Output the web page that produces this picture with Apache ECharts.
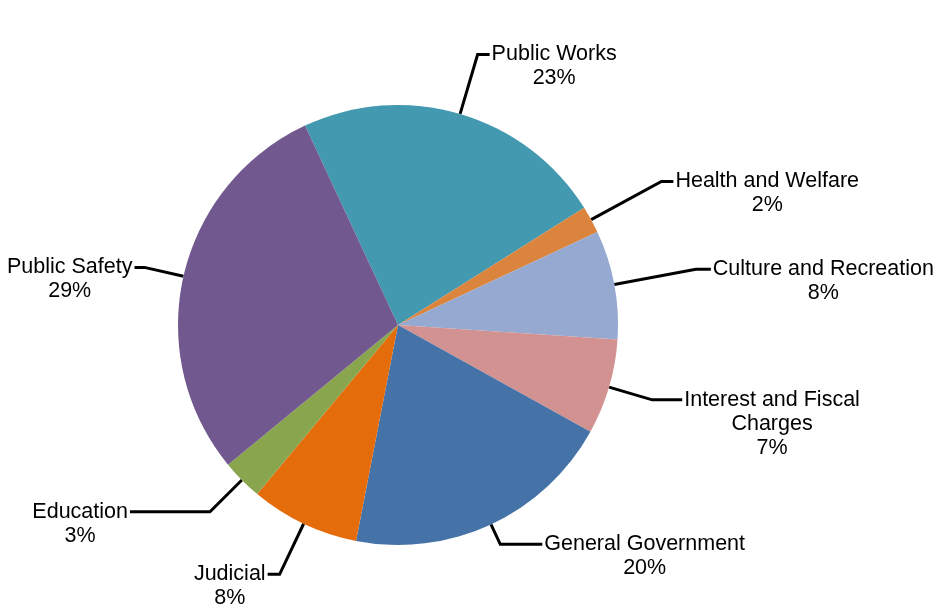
<!DOCTYPE html>
<html>
<head>
<meta charset="utf-8">
<script src="https://cdn.jsdelivr.net/npm/echarts@6/dist/echarts.min.js"></script>
<style>
  html, body { margin: 0; padding: 0; background: #fff; }
  #chart { width: 943px; height: 604px; }
</style>
</head>
<body>
<div id="chart"></div>
<script>
(function() {
  // data (percent of total)
  var categories = ["Public Works", "Health and Welfare", "Culture and Recreation",
    "Interest and Fiscal Charges", "General Government", "Judicial", "Education", "Public Safety"];
  var values = [23, 2, 8, 7, 20, 8, 3, 29];
  var labelTexts = ["Public Works", "Health and Welfare", "Culture and Recreation",
    "Interest and Fiscal\nCharges", "General Government", "Judicial", "Education", "Public Safety"];

  var colors = ["#4299B0", "#DB843D", "#95A9D1", "#D29291", "#4572A7", "#E46C0A", "#89A54E", "#71588F"];
  // label line lengths per slice
  var lineLen = [62, 80, 83, 45, 22, 56, 45, 40];
  var lineLen2 = [12, 12, 15, 30, 42, 12, 80, 10];

  var myChart = echarts.init(document.getElementById("chart"));

  var data = categories.map(function(name, i) {
    var lines = labelTexts[i].split("\n").length + 1;
    return {
      name: name,
      value: values[i],
      itemStyle: { color: colors[i] },
      labelLine: { length: lineLen[i], length2: lineLen2[i] },
      // pad the top so the line meets the first text line
      label: { padding: [(lines - 1) * 24, 0, 0, 0] }
    };
  });

  var option = {
    backgroundColor: "#fff",
    animation: false,
    series: [
      {
        type: "pie",
        center: [398, 325],
        radius: 220,
        startAngle: 115,
        clockwise: true,
        avoidLabelOverlap: false,
        data: data,
        label: {
          show: true,
          position: "outside",
          distanceToLabelLine: 2,
          formatter: function(p) {
            var i = categories.indexOf(p.name);
            return labelTexts[i].split("\n").map(function(s) {
              return "{t|" + s + "}";
            }).join("\n") + "\n{t|" + p.value + "%}";
          },
          rich: {
            t: {
              align: "center",
              fontFamily: "Liberation Sans",
              fontSize: 21.5,
              lineHeight: 24,
              color: "#000"
            }
          }
        },
        labelLine: {
          show: true,
          lineStyle: { color: "#000", width: 3 }
        },
        itemStyle: { borderWidth: 0 }
      }
    ]
  };

  myChart.setOption(option);
  window.addEventListener("resize", function() {
    myChart.resize();
  });
})();
</script>
</body>
</html>
